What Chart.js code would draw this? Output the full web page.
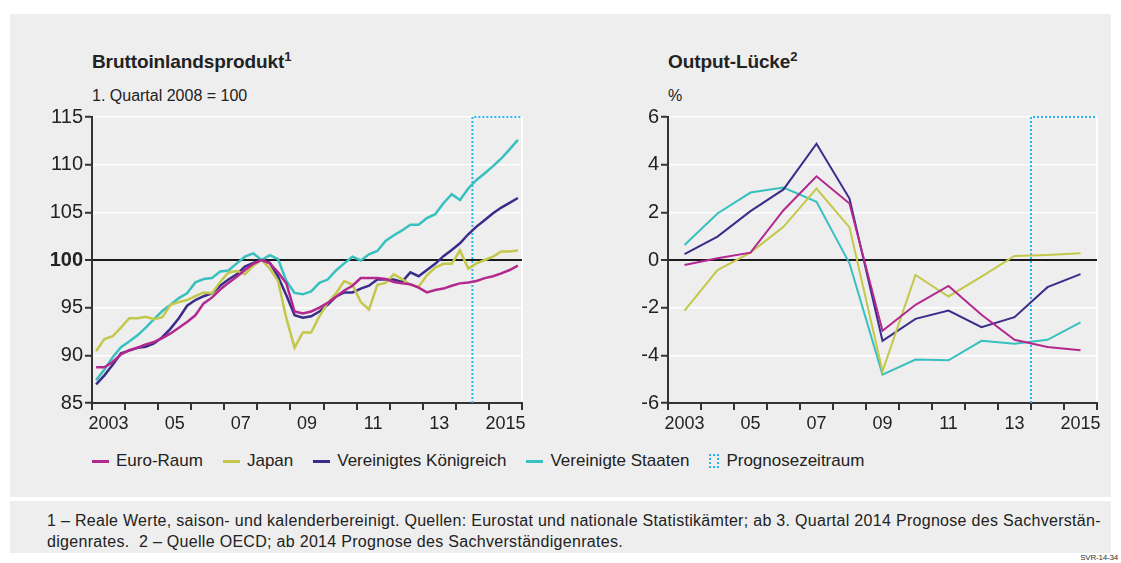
<!DOCTYPE html>
<html lang="de">
<head>
  <meta charset="UTF-8" />
  <title>Bruttoinlandsprodukt und Output-Lücke</title>
  <script src="https://cdn.jsdelivr.net/npm/chart.js"></script>
  <style>
    body {
      margin: 0;
      background: #fff;
      font-family: 'Liberation Sans', Arial, sans-serif;
      color: #222;
    }
    .page { position: relative; width: 1121px; height: 563px; overflow: hidden; }
    .panel { position: absolute; left: 10px; top: 14px; width: 1101px; height: 483px; background: #eeeeee; }
    .notes { position: absolute; left: 10px; top: 501px; width: 1101px; height: 52px; background: #eeeeee; }
    .title { position: absolute; top: 51px; font-size: 19px; font-weight: bold; letter-spacing: -0.1px; }
    .title sup { font-size: 13px; vertical-align: 7px; line-height: 0; }
    .unit { position: absolute; top: 87px; font-size: 16px; }
    .chart-box { position: absolute; top: 100px; height: 345px; }
    .legend { position: absolute; left: 92px; top: 451px; display: flex; align-items: center; font-size: 17px; white-space: nowrap; }
    .legend .item { display: flex; align-items: center; margin-right: 20px; }
    .legend .swatch { width: 17px; height: 3px; margin-right: 7px; }
    .legend .box { width: 10px; height: 14px; border: 2px dotted #29b6f0; margin-right: 7px; box-sizing: border-box; }
    .foot { position: absolute; left: 47px; top: 510px; font-size: 16px; letter-spacing: 0.3px; line-height: 21px; white-space: nowrap; }
    .code { position: absolute; right: 3px; top: 553px; font-size: 8px; letter-spacing: -0.2px; color: #333; }
  </style>
</head>
<body>
<div class="page">
  <div class="panel"></div>
  <div class="notes"></div>

  <div class="title" style="left:92px;">Bruttoinlandsprodukt<sup>1</sup></div>
  <div class="unit" style="left:92px;">1. Quartal 2008 = 100</div>
  <div class="title" style="left:668px;">Output-Lücke<sup>2</sup></div>
  <div class="unit" style="left:668px;">%</div>

  <div class="chart-box" style="left:0px; width:540px;">
    <canvas id="bipChart" width="540" height="345"></canvas>
  </div>
  <div class="chart-box" style="left:580px; width:541px;">
    <canvas id="gapChart" width="541" height="345"></canvas>
  </div>

  <div class="legend" id="legend"></div>

  <div class="foot">
    1 – Reale Werte, saison- und kalenderbereinigt. Quellen: Eurostat und nationale Statistikämter; ab 3. Quartal 2014 Prognose des Sachverstän-<br />
    digenrates.&nbsp; 2 – Quelle OECD; ab 2014 Prognose des Sachverständigenrates.
  </div>
  <div class="code">SVR-14-34</div>
</div>

<script>
  // Jahre und Quartale
  const years = [2003, 2004, 2005, 2006, 2007, 2008, 2009, 2010, 2011, 2012, 2013, 2014, 2015];
  const quarters = years.flatMap(y => ['Q1', 'Q2', 'Q3', 'Q4'].map(q => y + ' ' + q));
  const yearLabels = ['2003', '05', '07', '09', '11', '13', '2015'];

  // BIP, 1. Quartal 2008 = 100 (2003 Q1 bis 2015 Q4)
  const bipEuro = [
    88.75, 88.75, 89.3, 90.1, 90.55, 90.8, 91.15, 91.4, 91.8, 92.3, 92.9, 93.5,
    94.2, 95.45, 96.05, 96.9, 97.6, 98.25, 98.95, 99.6, 100.0, 99.65, 98.7, 97.55,
    94.6, 94.4, 94.6, 95.0, 95.5, 96.15, 96.8, 97.3, 98.1, 98.1, 98.1, 98.0,
    97.7, 97.55, 97.45, 97.1, 96.6, 96.85, 97.0, 97.3, 97.55, 97.65, 97.8, 98.1,
    98.3, 98.6, 98.95, 99.4
  ];
  const bipJapan = [
    90.45, 91.7, 92.0, 92.9, 93.9, 93.9, 94.05, 93.8, 94.0, 95.3, 95.6, 95.8,
    96.2, 96.6, 96.5, 97.7, 98.7, 98.85, 98.5, 99.4, 100.0, 99.1, 97.8, 93.9,
    90.8, 92.4, 92.4, 94.1, 95.5, 96.5, 97.8, 97.4, 95.6, 94.8, 97.4, 97.6,
    98.5, 98.0, 97.4, 97.2, 98.4, 99.2, 99.6, 99.6, 101.0, 99.1, 99.65, 100.0,
    100.35, 100.9, 100.9, 101.0
  ];
  const bipUK = [
    86.95, 87.9, 89.0, 90.2, 90.5, 90.8, 90.9, 91.25, 91.9, 92.8, 93.9, 95.2,
    95.8, 96.2, 96.5, 97.3, 97.95, 98.5, 99.3, 99.7, 100.0, 99.7, 98.25, 96.3,
    94.2, 93.95, 94.1, 94.6, 95.3, 96.15, 96.6, 96.6, 97.0, 97.3, 97.95, 97.95,
    97.95, 97.7, 98.7, 98.3, 98.95, 99.6, 100.4, 101.05, 101.75, 102.7, 103.5, 104.2,
    104.9, 105.5, 106.0, 106.5
  ];
  const bipUS = [
    87.4, 88.5, 89.8, 90.85, 91.45, 92.1, 92.9, 93.8, 94.65, 95.3, 96.0, 96.5,
    97.65, 98.0, 98.1, 98.8, 98.9, 99.65, 100.35, 100.7, 100.0, 100.5, 100.1, 97.8,
    96.55, 96.4, 96.7, 97.6, 97.95, 98.9, 99.65, 100.35, 99.95, 100.6, 100.95, 102.0,
    102.6, 103.1, 103.7, 103.7, 104.4, 104.8, 105.95, 106.9, 106.3, 107.5, 108.4, 109.1,
    109.85, 110.65, 111.6, 112.6
  ];

  // Output-Lücke in % (2003 bis 2015)
  const gapEuro = [-0.21, 0.07, 0.31, 2.09, 3.51, 2.37, -2.97, -1.88, -1.09, -2.3, -3.35, -3.65, -3.79];
  const gapJapan = [-2.12, -0.42, 0.31, 1.39, 3.0, 1.37, -4.67, -0.63, -1.53, -0.7, 0.17, 0.21, 0.28];
  const gapUK = [0.25, 0.98, 2.05, 2.96, 4.88, 2.58, -3.39, -2.47, -2.12, -2.82, -2.4, -1.14, -0.59];
  const gapUS = [0.63, 1.95, 2.83, 3.04, 2.44, -0.14, -4.81, -4.18, -4.21, -3.39, -3.51, -3.35, -2.62];

  // Prognose ab 3. Quartal 2014 bzw. ab 2014
  const bipForecastFrom = '2014 Q3';
  const gapForecastFrom = 2014;

  const seriesNames = ['Euro-Raum', 'Japan', 'Vereinigtes Königreich', 'Vereinigte Staaten'];
  const seriesColors = ['#b3288e', '#c3c84a', '#3a2c8a', '#38bfbf'];
  const forecastColor = '#29b6f0';
  const forecastName = 'Prognosezeitraum';

  const FONT = "'Liberation Sans', Arial, sans-serif";

  function toPoints(values) {
    return values.map((v, i) => ({ x: i + 0.5, y: v }));
  }

  function lineSet(label, values, color, width) {
    return {
      label: label,
      data: toPoints(values),
      borderColor: color,
      backgroundColor: color,
      borderWidth: width,
      pointRadius: 0,
      tension: 0,
      fill: false
    };
  }

  function forecastSet(from, xMax, yMin, yMax) {
    return {
      label: forecastName,
      data: [{ x: from, y: yMin }, { x: from, y: yMax }, { x: xMax, y: yMax }],
      borderColor: forecastColor,
      borderWidth: 2,
      borderDash: [2, 2],
      pointRadius: 0,
      fill: false,
      clip: 4
    };
  }

  function makeOptions(o) {
    return {
      responsive: false,
      animation: false,
      devicePixelRatio: 1,
      layout: { padding: { left: 0, top: 17, right: o.padRight, bottom: 7 } },
      plugins: { legend: { display: false }, tooltip: { enabled: false } },
      scales: {
        x: {
          type: 'linear',
          min: 0,
          max: o.xMax,
          afterFit: s => { s.height = 35; },
          border: { color: '#333', width: 2 },
          grid: {
            drawOnChartArea: true,
            color: ctx => ctx.tick && ctx.tick.value === o.xMax ? '#ffffff' : 'rgba(0,0,0,0)',
            lineWidth: 2,
            tickColor: '#333',
            tickLength: 7,
            tickWidth: 2
          },
          ticks: {
            stepSize: o.xStep,
            autoSkip: false,
            maxRotation: 0,
            labelOffset: o.labelOffset,
            padding: 3,
            color: '#222',
            font: { family: FONT, size: 18 },
            callback: v => {
              const yi = Math.round(v / o.xStep);
              if (yi % 2 !== 0 || yi >= years.length) return '';
              return yearLabels[yi / 2];
            }
          }
        },
        y: {
          min: o.yMin,
          max: o.yMax,
          afterFit: s => { s.width = o.axisWidth; },
          border: { color: '#333', width: 2 },
          grid: {
            color: ctx => ctx.tick && ctx.tick.value === o.base ? '#1a1a1a' : '#ffffff',
            lineWidth: ctx => ctx.tick && ctx.tick.value === o.base ? 2 : 1.5,
            tickColor: '#333',
            tickLength: 7,
            tickWidth: 2
          },
          ticks: {
            stepSize: o.yStep,
            padding: 2,
            color: '#222',
            font: ctx => ({
              family: FONT,
              size: 20,
              weight: o.boldBase && ctx.tick && ctx.tick.value === o.base ? 'bold' : 'normal'
            })
          }
        }
      }
    };
  }

  // Linkes Diagramm: BIP
  new Chart(document.getElementById('bipChart').getContext('2d'), {
    type: 'line',
    data: {
      datasets: [
        lineSet(seriesNames[0], bipEuro, seriesColors[0], 2.5),
        lineSet(seriesNames[1], bipJapan, seriesColors[1], 2.5),
        lineSet(seriesNames[2], bipUK, seriesColors[2], 2.5),
        lineSet(seriesNames[3], bipUS, seriesColors[3], 2.5),
        forecastSet(quarters.indexOf(bipForecastFrom), quarters.length, 85, 115)
      ]
    },
    options: makeOptions({
      xMax: quarters.length, xStep: 4, labelOffset: 16.5,
      yMin: 85, yMax: 115, yStep: 5, base: 100, boldBase: true,
      axisWidth: 92, padRight: 18
    })
  });

  // Rechtes Diagramm: Output-Lücke
  new Chart(document.getElementById('gapChart').getContext('2d'), {
    type: 'line',
    data: {
      datasets: [
        lineSet(seriesNames[0], gapEuro, seriesColors[0], 2),
        lineSet(seriesNames[1], gapJapan, seriesColors[1], 2),
        lineSet(seriesNames[2], gapUK, seriesColors[2], 2),
        lineSet(seriesNames[3], gapUS, seriesColors[3], 2),
        forecastSet(years.indexOf(gapForecastFrom), years.length, -6, 6)
      ]
    },
    options: makeOptions({
      xMax: years.length, xStep: 1, labelOffset: 16.5,
      yMin: -6, yMax: 6, yStep: 2, base: 0, boldBase: false,
      axisWidth: 88, padRight: 24
    })
  });

  // Legende
  const legend = document.getElementById('legend');
  seriesNames.forEach((name, i) => {
    const item = document.createElement('div');
    item.className = 'item';
    item.innerHTML = '<span class="swatch" style="background:' + seriesColors[i] + '"></span>' + name;
    legend.appendChild(item);
  });
  const fc = document.createElement('div');
  fc.className = 'item';
  fc.innerHTML = '<span class="box"></span>' + forecastName;
  legend.appendChild(fc);
</script>
</body>
</html>
